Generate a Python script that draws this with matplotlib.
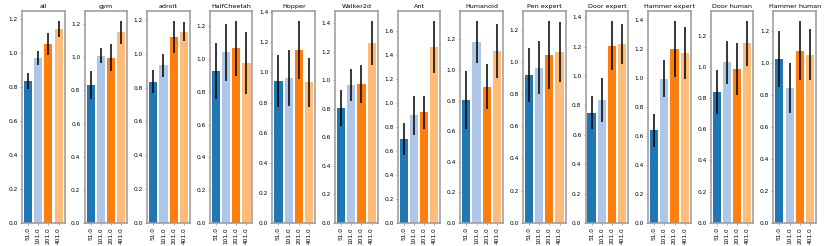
import matplotlib

matplotlib.use("Agg")
import matplotlib.pyplot as plt
import numpy as np

tasks = ["all", "gym", "adroit", "HalfCheetah", "Hopper", "Walker2d", "Ant",
         "Humanoid", "Pen expert", "Door expert", "Hammer expert", "Door human",
         "Hammer human"]
settings = ["51.0", "101.0", "201.0", "401.0"]
colors = ["#1f77b4", "#aec7e8", "#ff7f0e", "#ffbb78"]

# normalized score per task, one entry per setting
means = [
    [0.837, 0.973, 1.055, 1.143],
    [0.833, 1.008, 0.998, 1.150],
    [0.835, 0.931, 1.100, 1.130],
    [0.927, 1.040, 1.065, 0.976],
    [0.943, 0.965, 1.148, 0.934],
    [0.804, 0.965, 0.972, 1.259],
    [0.700, 0.897, 0.922, 1.467],
    [0.804, 1.183, 0.891, 1.124],
    [0.918, 0.965, 1.041, 1.062],
    [0.751, 0.837, 1.206, 1.217],
    [0.639, 0.995, 1.200, 1.172],
    [0.838, 1.028, 0.987, 1.149],
    [1.027, 0.844, 1.079, 1.054],
]
errors = [
    [0.046, 0.040, 0.064, 0.046],
    [0.085, 0.045, 0.080, 0.068],
    [0.068, 0.069, 0.093, 0.056],
    [0.170, 0.174, 0.166, 0.190],
    [0.171, 0.185, 0.193, 0.162],
    [0.124, 0.114, 0.134, 0.154],
    [0.132, 0.160, 0.136, 0.218],
    [0.190, 0.136, 0.146, 0.179],
    [0.167, 0.166, 0.212, 0.188],
    [0.114, 0.149, 0.168, 0.136],
    [0.113, 0.128, 0.192, 0.178],
    [0.140, 0.136, 0.166, 0.143],
    [0.177, 0.158, 0.184, 0.160],
]

plt.rcParams["font.size"] = 4.2

fig, axes = plt.subplots(1, len(tasks), figsize=(8.3, 2.46), dpi=100)
fig.subplots_adjust(left=22 / 830, right=816 / 830, bottom=0.094, top=0.955, wspace=0.47)

x = np.arange(len(settings))
for ax, task, m, e in zip(axes, tasks, means, errors):
    ax.bar(x, m, yerr=e, color=colors, width=0.8,
           error_kw=dict(ecolor="black", elinewidth=1.1, capsize=0))
    ax.set_title(task, fontsize=4.6, pad=2)
    ax.set_xticks(x)
    ax.set_xticklabels(settings, rotation=90)
    ax.yaxis.set_major_locator(matplotlib.ticker.MultipleLocator(0.2))
    ax.tick_params(length=1.5, width=0.5, pad=1.5, color="#888888")
    for s in ax.spines.values():
        s.set_color("#999999")
        s.set_linewidth(1.1)

fig.savefig("out.png", dpi=100)
plt.close(fig)
